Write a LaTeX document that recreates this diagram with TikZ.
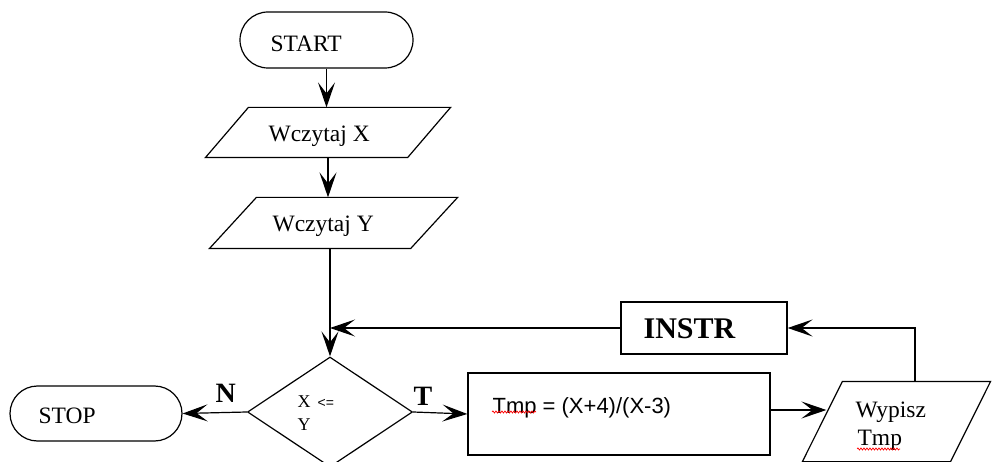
\documentclass[tikz,border=0pt]{standalone}
\usepackage{fontspec}
\setmainfont{Liberation Serif}
\newfontfamily\arialfont{Liberation Sans}
\usetikzlibrary{shapes.geometric,shapes.misc,arrows.meta,decorations.pathmorphing}

\begin{document}
\begin{tikzpicture}[x=1pt,y=-1pt, line width=1.2pt,
  flow/.style={draw, inner sep=0pt},
  term/.style={flow, rounded rectangle, minimum width=173pt, minimum height=56pt},
  frame/.style={inner sep=0pt},
  arr/.style={-{Stealth[length=25pt,width=17pt,inset=11pt]}},
  txt/.style={anchor=base west, inner sep=0pt, font=\fontsize{23.5}{28}\selectfont},
  wavy/.style={red, line width=0.7pt, decorate, decoration={snake, amplitude=1pt, segment length=3pt}}]

\useasboundingbox (0,0) rectangle (995,462);
\clip (0,0) rectangle (995,462);

% shapes
\node[term] (start) at (326.5,40) {};
\node[frame, minimum width=244pt, minimum height=49pt] (wx) at (328,132.5) {};
\draw ([xshift=43pt]wx.north west) -- (wx.north east) -- ([xshift=-43pt]wx.south east) -- (wx.south west) -- cycle;
\node[frame, minimum width=247pt, minimum height=50pt] (wy) at (333.5,223) {};
\draw ([xshift=47pt]wy.north west) -- (wy.north east) -- ([xshift=-47pt]wy.south east) -- (wy.south west) -- cycle;
\node[flow, diamond, aspect=1.5, minimum width=165pt, minimum height=110pt] (dec) at (330,412) {};
\node[term, minimum width=172pt, minimum height=55pt] (stop) at (96,413.5) {};
\node[flow, rectangle, minimum width=302pt, minimum height=82pt] (calc) at (619,414) {};
\node[frame, minimum width=187pt, minimum height=79pt] (out) at (896.5,421.5) {};
\draw ([xshift=40pt]out.north west) -- (out.north east) -- ([xshift=-40pt]out.south east) -- (out.south west) -- cycle;
\node[flow, rectangle, minimum width=166pt, minimum height=52pt] (instr) at (704,328) {};

% texts
\node[txt] (tstart) at (270,52) {START};
\node[txt] (twx) at (268,142) {Wczytaj X};
\node[txt] (twy) at (272,232) {Wczytaj Y};
\node[txt] (tstop) at (38,423) {STOP};
\node[txt, font=\fontsize{30}{36}\selectfont\bfseries] (tinstr) at (643,338) {INSTR};
\node[txt, font=\arialfont\fontsize{22}{26}\selectfont] (tcalc) at (492,413) {Tmp = (X+4)/(X-3)};
\node[txt] (tout1) at (855,417) {Wypisz};
\node[txt] (tout2) at (857,445) {Tmp};
\node[txt, font=\fontsize{18}{20}\selectfont] (tcond1) at (297,407) {X\hspace{7pt}{\arialfont\fontsize{14}{16}\selectfont <=}};
\node[txt, font=\fontsize{18}{20}\selectfont] (tcond2) at (297,430) {Y};
\node[txt, font=\fontsize{28}{32}\selectfont\bfseries] (lN) at (215,402) {N};
\node[txt, font=\fontsize{28}{32}\selectfont\bfseries] (lT) at (413,405) {T};

% spell-check underlines
\draw[wavy] (492,412) -- (536,412);
\draw[wavy] (857,449) -- (900,449);

% connectors
\draw[arr] (start.south) -- (start.south |- wx.north);
\draw[arr] (wx.south) -- (wx.south |- wy.north);
\draw[arr] (dec.north |- wy.south) -- (dec.north);
\draw[arr] (instr.west) -- (instr.west -| dec.north);
\draw[arr] (dec.west) -- (stop.east);
\draw[arr] (dec.east) -- (calc.west);
\draw[arr] ([yshift=4pt]calc.east) -- ([yshift=4pt,xshift=24pt]calc.east -| out.west);
\draw[arr] ([xshift=18.5pt]out.north) |- (instr.east);
\end{tikzpicture}
\end{document}
